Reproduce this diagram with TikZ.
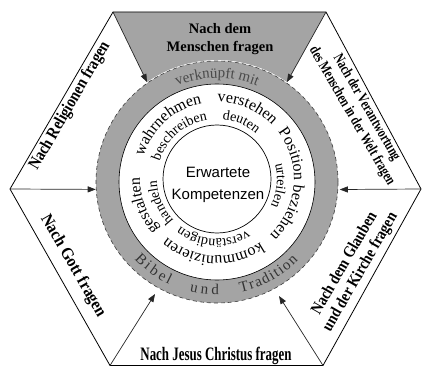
\documentclass[tikz,border=0pt]{standalone}
\usepackage{fontspec}
\setmainfont{Liberation Serif}
\newfontfamily\sansf{Liberation Sans}
\usetikzlibrary{decorations.text,arrows.meta,calc}
\definecolor{fillgray}{HTML}{A4A4A4}
\definecolor{dashgray}{HTML}{3C3C3C}
\definecolor{ringtext}{HTML}{4A4A4A}
\newcommand\cz[2]{\scalebox{#1}[1]{#2}}
\newcommand\wfo{\fontsize{16}{16}\selectfont}
\newcommand\wfi{\fontsize{14}{14}\selectfont}
\newcommand\wfr{\fontsize{15}{15}\selectfont}
% clockwise text centred on an angle: font, colour, centre, mid angle, radius, text
\newcommand\cwtext[6]{{#1%
  \path[decorate,decoration={text along path,text={|#1|#6},text align=center,text color=#2}]
    ($(#3)+({#4+60}:#5)$) arc[start angle={#4+60},end angle={#4-60},radius=#5];}}
% counter-clockwise text spread over an arc: font, colour, centre, start, end, radius, text
\newcommand\ccwtext[7]{{#1%
  \path[decorate,decoration={text along path,text={|#1|#7},text align={fit to path},text color=#2}]
    ($(#3)+(#4:#6)$) arc[start angle=#4,end angle=#5,radius=#6];}}
\begin{document}
\begin{tikzpicture}[x=1pt,y=1pt,
  hexline/.style={draw=black,line width=0.8pt,line join=miter},
  spoke/.style={draw=black!85,line width=0.7pt,-{Triangle[length=8pt,width=6pt]}},
  lab/.style={inner sep=0pt,align=center,font=\bfseries},
  dashcircle/.style={draw=dashgray,line width=0.6pt,dash pattern=on 4pt off 3pt},
]
\useasboundingbox (0,0) rectangle (422,367);
\coordinate (O) at (217,185);
\coordinate (W) at (217,188);
\coordinate (TL) at (113,355);
\coordinate (TR) at (326,355);
\coordinate (R) at (421,178);
\coordinate (BR) at (323,1.5);
\coordinate (BL) at (110,1.5);
\coordinate (L) at (10,178);
\coordinate (tTL) at ($(O)+(125:122)$);
\coordinate (tTR) at ($(O)+(55:122)$);
\coordinate (tL) at ($(O)+(183.5:121.5)$);
\coordinate (tR) at ($(O)+(-3.5:123)$);
\coordinate (tBL) at (155,73);
\coordinate (tBR) at (279,71);

\fill[fillgray] (TL) -- (TR) -- (tTR) arc[start angle=55,end angle=125,radius=122] -- cycle;
\fill[fillgray,even odd rule] (O) circle[radius=121] (O) circle[radius=98];
\draw[dashcircle] (O) circle[radius=121];
\draw[line width=0.6pt] (O) circle[radius=98];
\draw[line width=0.7pt] (W) circle[radius=54];
\draw[hexline] (TL) -- (TR) -- (R) -- (BR) -- (BL) -- (L) -- cycle;
\draw[spoke] (TL) -- (tTL);
\draw[spoke] (TR) -- (tTR);
\draw[spoke] (L) -- (tL);
\draw[spoke] (R) -- (tR);
\draw[spoke] (BL) -- (tBL);
\draw[spoke] (BR) -- (tBR);

\node[font=\sansf\fontsize{15}{22}\selectfont,align=center] (ctr) at (218,182) {Erwartete\\Kompetenzen};

\node[lab,font=\bfseries\fontsize{14.5}{18}\selectfont] (ltop) at (220,328) {Nach dem\\Menschen fragen};
\node[lab,rotate=60,font=\bfseries\fontsize{17}{17}\selectfont] (lrel) at (70,261) {\cz{0.85}{Nach Religionen fragen}};
\node[lab,rotate=-60,font=\bfseries\fontsize{15}{17}\selectfont] (lver) at (359,255) {\cz{0.75}{\begin{tabular}{@{}c@{}}Nach der Verantwortung\\des Menschen in der Welt fragen\end{tabular}}};
\node[lab,rotate=60,font=\bfseries\fontsize{16.5}{18}\selectfont] (lgla) at (353,99) {\cz{0.85}{\begin{tabular}{@{}c@{}}Nach dem Glauben\\und der Kirche fragen\end{tabular}}};
\node[lab,rotate=-60,font=\bfseries\fontsize{17}{17}\selectfont] (lgot) at (73,101) {\cz{0.91}{Nach Gott fragen}};
\node[lab,anchor=base,font=\bfseries\fontsize{19}{19}\selectfont] (ljes) at (216,7) {\cz{0.68}{Nach Jesus Christus fragen}};

\cwtext{\wfo}{black}{W}{132}{77}{wahrnehmen}
\cwtext{\wfo}{black}{W}{67}{77}{verstehen}
\cwtext{\wfo}{black}{W}{-4.5}{77}{Position beziehen}
\cwtext{\wfo}{black}{W}{-93}{77}{kommunizieren}
\cwtext{\wfo}{black}{W}{200}{77}{gestalten}
\cwtext{\wfi}{black}{W}{131}{60}{beschreiben}
\cwtext{\wfi}{black}{W}{67}{60}{deuten}
\cwtext{\wfi}{black}{W}{-6}{60}{urteilen}
\cwtext{\wfi}{black}{W}{-93.5}{60}{verständigen}
\cwtext{\wfi}{black}{W}{202.5}{60}{handeln}

\cwtext{\wfr}{ringtext}{O}{90}{104}{verknüpft mit}
\ccwtext{\wfr}{ringtext!70!black}{O}{-137}{-115}{113}{Bibel}
\ccwtext{\wfr}{ringtext!70!black}{O}{-104}{-89}{113}{und}
\ccwtext{\wfr}{ringtext!70!black}{O}{-78}{-44}{113}{Tradition}
\end{tikzpicture}
\end{document}
